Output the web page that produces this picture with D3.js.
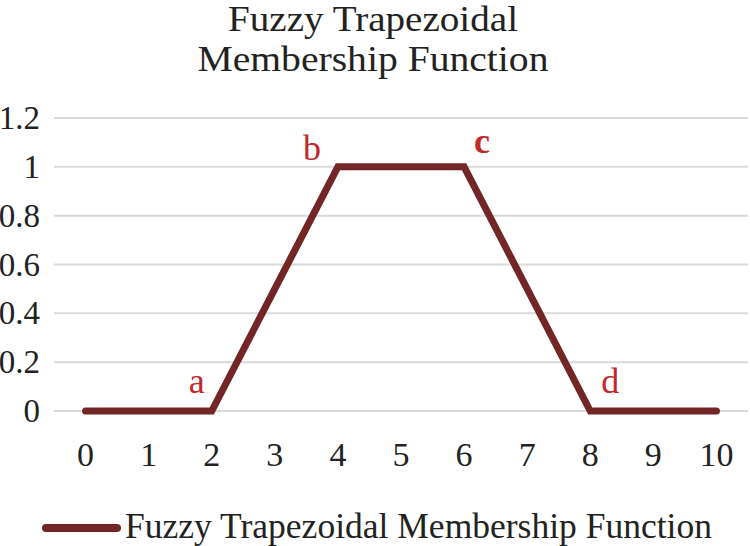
<!DOCTYPE html>
<html><head><meta charset="utf-8">
<script src="https://cdn.jsdelivr.net/npm/d3@7"></script>
<style>body{margin:0;background:#fff}svg{display:block}</style>
</head><body>
<svg id="c" width="750" height="546"></svg>
<script>
const categories = [0,1,2,3,4,5,6,7,8,9,10];
const membership = [0,0,0,0.5,1,1,1,0.5,0,0,0];
const yTicks = [0,0.2,0.4,0.6,0.8,1,1.2];
const pointLabels = [{x:2,y:0,t:"a"},{x:4,y:1,t:"b"},{x:6,y:1,t:"c"},{x:8,y:0,t:"d"}];
const titleLines = ["Fuzzy Trapezoidal","Membership Function"];
const seriesName = "Fuzzy Trapezoidal Membership Function";

const font = "'Liberation Serif', 'DejaVu Serif', serif";
const svg = d3.select("#c");
const L=54,R=748,T=118,B=411;
const x = d3.scalePoint().domain(categories).range([L,R]).padding(0.5);
const y = d3.scaleLinear().domain([0,1.2]).range([B,T]);

// title
const titleW = [290,351];
svg.append("g").selectAll("text").data(titleLines).join("text")
  .attr("x",373).attr("y",(d,i)=>31+i*40)
  .attr("text-anchor","middle").attr("font-family",font).attr("font-size",35)
  .attr("textLength",(d,i)=>titleW[i]).attr("lengthAdjust","spacingAndGlyphs")
  .attr("fill","#222").text(d=>d);

// grid
svg.append("g").selectAll("line").data(yTicks).join("line")
  .attr("x1",L).attr("x2",R).attr("y1",d=>y(d)).attr("y2",d=>y(d))
  .attr("stroke","#d9d9d9").attr("stroke-width",2);

// y labels
svg.append("g").selectAll("text").data(yTicks).join("text")
  .attr("x",40).attr("y",d=>y(d)+11)
  .attr("text-anchor","end").attr("font-family",font).attr("font-size",33)
  .attr("fill","#222").text(d=>d);

// x labels
svg.append("g").selectAll("text").data(categories).join("text")
  .attr("x",d=>x(d)).attr("y",466)
  .attr("text-anchor","middle").attr("font-family",font).attr("font-size",34)
  .attr("fill","#222").text(d=>d);

// line
const line = d3.line().x((d,i)=>x(categories[i])).y(d=>y(d));
svg.append("path").datum(membership).attr("d",line)
  .attr("fill","none").attr("stroke","#722626").attr("stroke-width",7)
  .attr("stroke-linecap","round").attr("stroke-linejoin","miter");

// point labels
const off = {a:[-15,-18],b:[-26,-7],c:[18,-14],d:[20,-18]};
svg.append("g").selectAll("text").data(pointLabels).join("text")
  .attr("x",d=>x(d.x)+off[d.t][0]).attr("y",d=>y(d.y)+off[d.t][1])
  .attr("text-anchor","middle").attr("font-family",font).attr("font-size",36)
  .attr("font-weight",d=>d.t==="c"?"bold":"normal")
  .attr("fill","#c0282d").text(d=>d.t);

// legend
svg.append("line").attr("x1",46).attr("x2",117).attr("y1",528).attr("y2",528)
  .attr("stroke","#722626").attr("stroke-width",8).attr("stroke-linecap","round");
svg.append("text").attr("x",125).attr("y",538).attr("font-family",font).attr("font-size",35)
  .attr("textLength",587).attr("lengthAdjust","spacingAndGlyphs")
  .attr("fill","#222").text(seriesName);
</script>
</body></html>
